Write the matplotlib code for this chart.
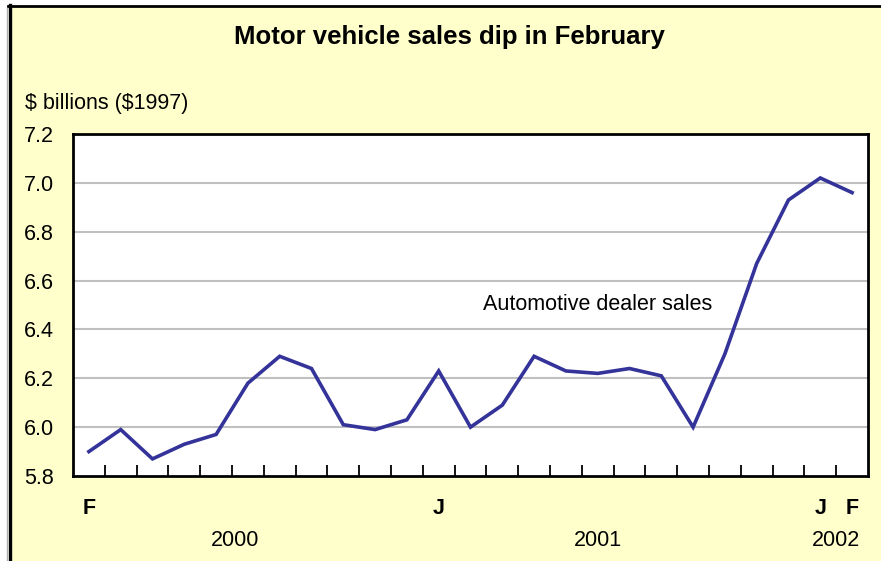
import matplotlib
matplotlib.use("Agg")
import matplotlib.pyplot as plt
import matplotlib.transforms as mtransforms
from matplotlib.patches import Rectangle
from matplotlib.lines import Line2D

plt.rcParams['font.family'] = ['Liberation Sans', 'DejaVu Sans']

# monthly data, Feb 2000 .. Feb 2002
months = ['F', 'M', 'A', 'M', 'J', 'J', 'A', 'S', 'O', 'N', 'D',
          'J', 'F', 'M', 'A', 'M', 'J', 'J', 'A', 'S', 'O', 'N', 'D',
          'J', 'F']
sales = [5.90, 5.99, 5.87, 5.93, 5.97, 6.18, 6.29, 6.24, 6.01, 5.99, 6.03,
         6.23, 6.00, 6.09, 6.29, 6.23, 6.22, 6.24, 6.21, 6.00, 6.30,
         6.67, 6.93, 7.02, 6.96]
shown_labels = {0: 'F', 11: 'J', 23: 'J', 24: 'F'}
years = ['2000', '2001', '2002']
year_pos = [4.6, 16.0, 23.5]
yticks = [5.8, 6.0, 6.2, 6.4, 6.6, 6.8, 7.0, 7.2]

fig = plt.figure(figsize=(8.81, 5.61), dpi=100)
fig.patch.set_facecolor('white')

# yellow panel with black border on left and top
W, H = 881, 561
fig.patches.append(Rectangle((11 / W, 0), 1, 1 - 7 / H, transform=fig.transFigure,
                             facecolor='#ffffcc', edgecolor='none', zorder=-5))
fig.lines.append(Line2D([9.5 / W, 9.5 / W], [0, 1 - 5 / H], transform=fig.transFigure,
                        color='black', lw=2.4, zorder=-4))
fig.lines.append(Line2D([8 / W, 1], [1 - 6 / H, 1 - 6 / H], transform=fig.transFigure,
                        color='black', lw=2.0, zorder=-4))
fig.lines.append(Line2D([7 / W, 7 / W], [0, 1 - 8 / H], transform=fig.transFigure,
                        color='#b0b0b0', lw=1.0, zorder=-4))

ax = fig.add_axes([73 / W, 1 - 476 / H, (868 - 73) / W, (476 - 134) / H])
ax.set_zorder(2)
ax.set_facecolor('white')
x = list(range(len(sales)))
ax.plot(x, sales, color='#333399', lw=2.6, solid_joinstyle='miter', zorder=3)

ax.set_xlim(-0.5, len(sales) - 0.5)
ax.set_ylim(5.8, 7.2)
ax.set_yticks(yticks)
ax.set_yticklabels([f'{v:.1f}' for v in yticks], fontsize=15.5)
ax.tick_params(axis='y', length=0, pad=14)
for v in yticks[1:-1]:
    ax.axhline(v, color='#c0c0c0', lw=1.5, zorder=1)

ax.set_xticks([i + 0.5 for i in range(len(sales) - 1)])
ax.set_xticklabels([])
ax.tick_params(axis='x', direction='in', length=8, width=1.3, color='black')

for s in ax.spines.values():
    s.set_linewidth(2.0)
    s.set_color('black')

trans = mtransforms.blended_transform_factory(ax.transData, ax.transAxes)
for i, lab in shown_labels.items():
    ax.text(i, -0.095, lab, transform=trans, ha='center', va='center',
            fontsize=15.5, fontweight='bold')
for yr, p in zip(years, year_pos):
    ax.text(p, -0.19, yr, transform=trans, ha='center', va='center', fontsize=15.5)

ax.text(16.0, 6.5, 'Automotive dealer sales', ha='center', va='center', fontsize=15.5)

fig.text(449 / W, 1 - 37 / H, 'Motor vehicle sales dip in February', ha='center',
         va='center', fontsize=18.5, fontweight='bold')
fig.text(25 / W, 1 - 103 / H, r'\$ billions (\$1997)', ha='left', va='center', fontsize=15.5)

fig.savefig('out.png', dpi=100, facecolor=fig.get_facecolor())
